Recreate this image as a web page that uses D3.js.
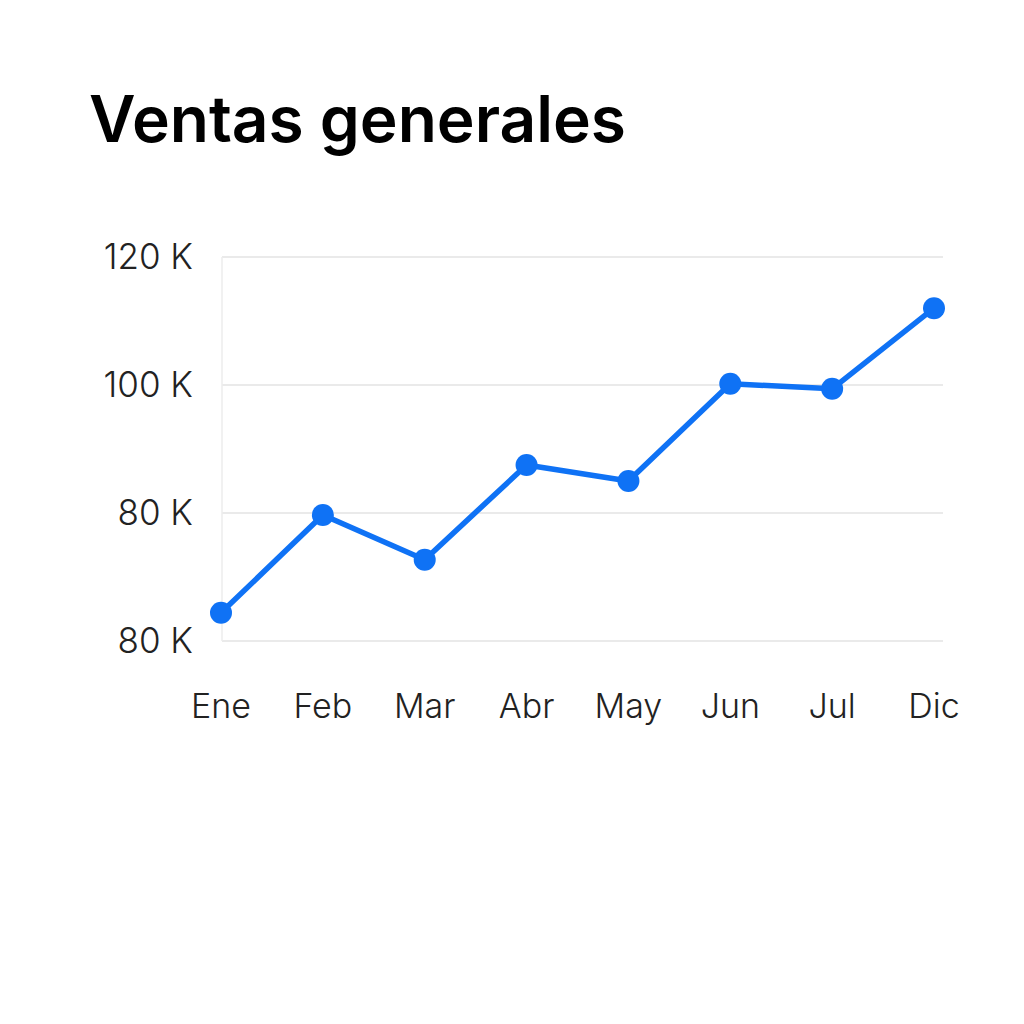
<!DOCTYPE html>
<html>
<head>
<meta charset="utf-8">
<script src="https://cdn.jsdelivr.net/npm/d3@7"></script>
<style>
  body { margin: 0; background: #fff; }
  text { font-family: Inter, "Noto Sans", sans-serif; }
</style>
</head>
<body>
<div id="chart"></div>
<script>
// data
const months = ['Ene', 'Feb', 'Mar', 'Abr', 'May', 'Jun', 'Jul', 'Dic'];
const sales = [64.4, 79.7, 72.7, 87.5, 85.0, 100.2, 99.4, 112.0];
const tickValues = [60, 80, 100, 120];
const tickLabels = ['80 K', '80 K', '100 K', '120 K'];

const svg = d3.select('#chart').append('svg')
    .attr('width', 1024)
    .attr('height', 1024);

svg.append('text')
    .attr('x', 89).attr('y', 142)
    .attr('font-size', 64).attr('font-weight', 600)
    .attr('fill', '#000')
    .text('Ventas generales');

const x = d3.scalePoint().domain(months).range([221, 934]);
const y = d3.scaleLinear().domain([60, 120]).range([641, 257]);

// grid
svg.append('g').selectAll('line')
    .data(tickValues)
    .join('line')
    .attr('x1', 222).attr('x2', 943)
    .attr('y1', d => y(d)).attr('y2', d => y(d))
    .attr('stroke', '#e3e3e3').attr('stroke-width', 1.5);

svg.append('line')
    .attr('x1', 222).attr('x2', 222)
    .attr('y1', y(120)).attr('y2', y(60))
    .attr('stroke', '#ececec').attr('stroke-width', 1.5);

// y labels
svg.append('g').selectAll('text')
    .data(tickValues)
    .join('text')
    .attr('x', 193).attr('y', d => y(d) + 12)
    .attr('text-anchor', 'end')
    .attr('font-size', 35).attr('font-weight', 300).attr('fill', '#222')
    .text((d, i) => tickLabels[i]);

// x labels
svg.append('g').selectAll('text')
    .data(months)
    .join('text')
    .attr('x', d => x(d)).attr('y', 718)
    .attr('text-anchor', 'middle')
    .attr('font-size', 34).attr('font-weight', 300).attr('fill', '#222')
    .text(d => d);

const line = d3.line()
    .x((d, i) => x(months[i]))
    .y(d => y(d));

svg.append('path')
    .datum(sales)
    .attr('d', line)
    .attr('fill', 'none')
    .attr('stroke', '#0f72f5')
    .attr('stroke-width', 5.5)
    .attr('stroke-linejoin', 'round');

svg.append('g').selectAll('circle')
    .data(sales)
    .join('circle')
    .attr('cx', (d, i) => x(months[i]))
    .attr('cy', d => y(d))
    .attr('r', 11)
    .attr('fill', '#0f72f5');
</script>
</body>
</html>
